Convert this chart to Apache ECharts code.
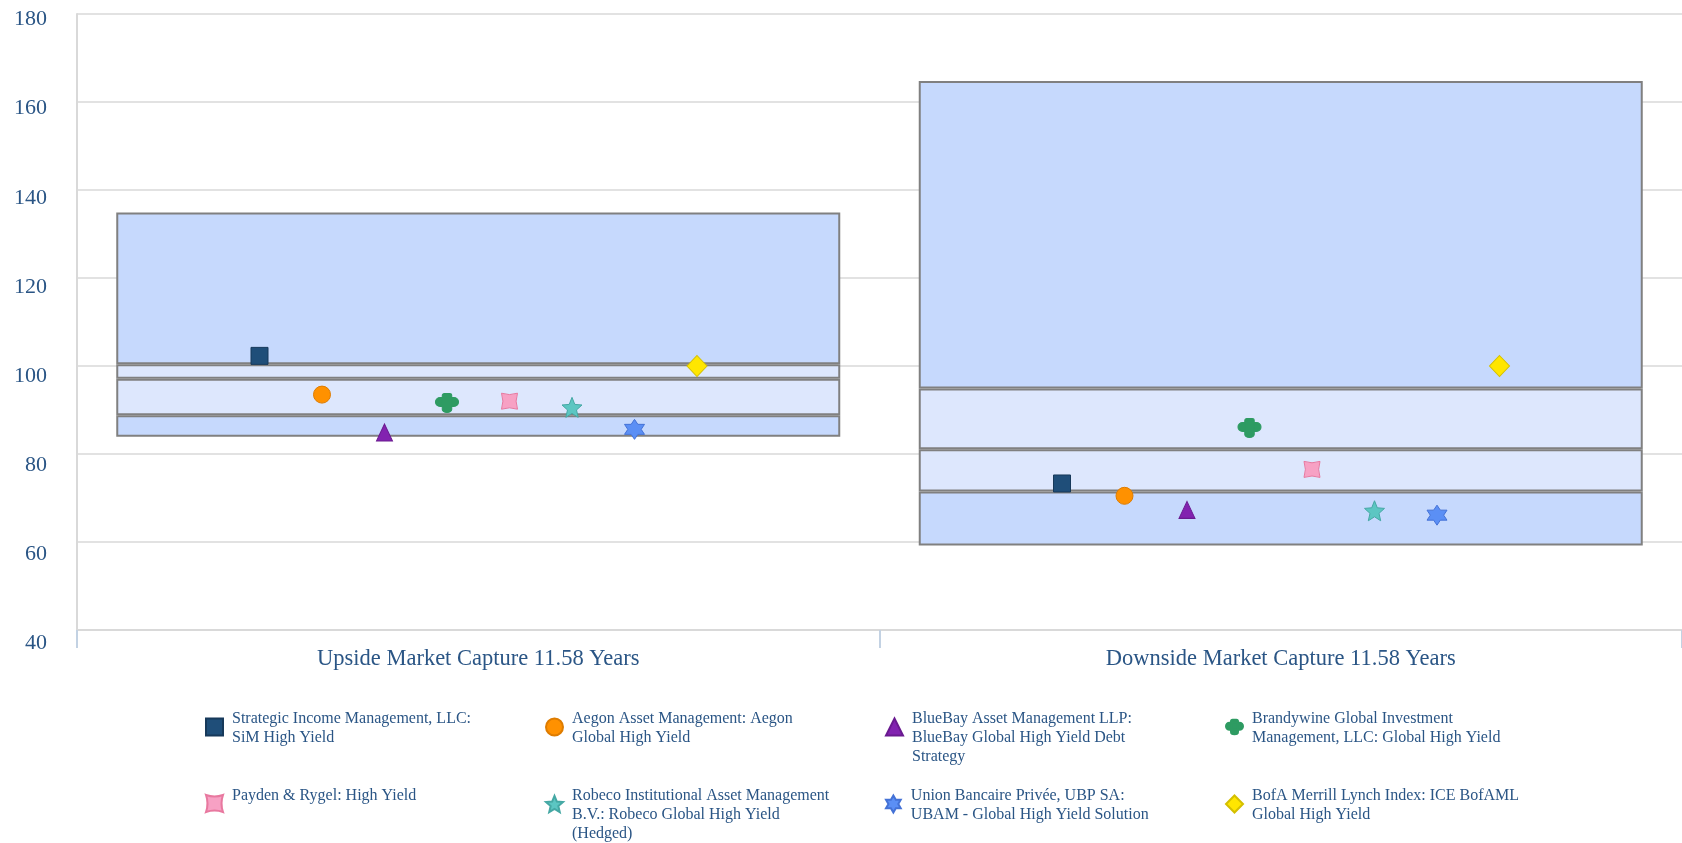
<!DOCTYPE html>
<html><head><meta charset="utf-8">
<script src="https://cdn.jsdelivr.net/npm/echarts@6/dist/echarts.min.js"></script>
<style>html,body{margin:0;padding:0;background:#fff}#c{width:1682px;height:843px}</style>
</head><body><div id="c"></div>
<script>
// ---- data ----
const categories = ['Upside Market Capture 11.58 Years', 'Downside Market Capture 11.58 Years'];
const rangeMin = [83.9, 59.2];
const rangeQ1 = [88.8, 71.5];
const rangeMedian = [97.1, 81.1];
const rangeQ3 = [100.4, 94.9];
const rangeMax = [134.9, 164.8];

const simHighYield = [102.3, 73.3];
const aegonGlobalHighYield = [93.5, 70.5];
const blueBayGlobalHighYield = [84.9, 67.3];
const brandywineGlobalHighYield = [91.6, 85.9];
const paydenHighYield = [92.0, 76.5];
const robecoGlobalHighYield = [90.6, 67.1];
const ubamGlobalHighYield = [85.6, 66.1];
const bofamlGlobalHighYield = [100.0, 100.0];

const yTickValues = [40, 60, 80, 100, 120, 140, 160, 180];

const seriesNames = [
  'Strategic Income Management, LLC: SiM High Yield',
  'Aegon Asset Management: Aegon Global High Yield',
  'BlueBay Asset Management LLP: BlueBay Global High Yield Debt Strategy',
  'Brandywine Global Investment Management, LLC: Global High Yield',
  'Payden & Rygel: High Yield',
  'Robeco Institutional Asset Management B.V.: Robeco Global High Yield (Hedged)',
  'Union Bancaire Privée, UBP SA: UBAM - Global High Yield Solution',
  'BofA Merrill Lynch Index: ICE BofAML Global High Yield'
];
const legendLines = [
  ['Strategic Income Management, LLC:', 'SiM High Yield'],
  ['Aegon Asset Management: Aegon', 'Global High Yield'],
  ['BlueBay Asset Management LLP:', 'BlueBay Global High Yield Debt', 'Strategy'],
  ['Brandywine Global Investment', 'Management, LLC: Global High Yield'],
  ['Payden & Rygel: High Yield'],
  ['Robeco Institutional Asset Management', 'B.V.: Robeco Global High Yield', '(Hedged)'],
  ['Union Bancaire Privée, UBP SA:', 'UBAM - Global High Yield Solution'],
  ['BofA Merrill Lynch Index: ICE BofAML', 'Global High Yield']
];
const seriesValues = [simHighYield, aegonGlobalHighYield, blueBayGlobalHighYield, brandywineGlobalHighYield,
  paydenHighYield, robecoGlobalHighYield, ubamGlobalHighYield, bofamlGlobalHighYield];

// ---- styles ----
const FONT = "'Liberation Serif', 'Times New Roman', serif";
const TEXT = '#2a5585';
const DARK = '#c6d9fd';
const LIGHT = '#dde7fd';
const EDGE = '#808080';
const sym = {
  cross: 'path://M4.5,4 H17.5 A4.5,4.5 0 0 1 17.5,13 H4.5 A4.5,4.5 0 0 1 4.5,4 Z M6.5,2 A2,2 0 0 1 8.5,0 H13.5 A2,2 0 0 1 15.5,2 V16 A4.5,3 0 0 1 6.5,16 Z',
  pinch: 'path://M0,0 Q10,3.5 20,0 Q16.5,10 20,20 Q10,16.5 0,20 Q3.5,10 0,0 Z',
  star5: 'path://M10,0 L12.65,6.36 L19.51,6.91 L14.28,11.39 L15.88,18.09 L10,14.5 L4.12,18.09 L5.72,11.39 L0.49,6.91 L7.35,6.36 Z',
  star6: 'path://M10,0 L12.9,4.98 L18.66,5 L15.8,10 L18.66,15 L12.9,15.02 L10,20 L7.1,15.02 L1.34,15 L4.2,10 L1.34,5 L7.1,4.98 Z'
};
const markerStyles = [
  {symbol: 'rect', size: 17, color: '#1f4e79', border: '#17395a'},
  {symbol: 'circle', size: 17, color: '#ff9100', border: '#de7c00'},
  {symbol: 'triangle', size: [16, 17], color: '#8222b0', border: '#6a1a90'},
  {symbol: sym.cross, size: [23, 19], color: '#2e9b62', border: '#2e9b62'},
  {symbol: sym.pinch, size: 16, color: '#f7a1c4', border: '#e8789f'},
  {symbol: sym.star5, size: 20, color: '#5cc6c2', border: '#45a8a4'},
  {symbol: sym.star6, size: 20, color: '#5b8ff5', border: '#4472d6'},
  {symbol: 'diamond', size: [20, 21], color: '#ffe600', border: '#d4bf00'}
];
const markerSpacing = 62.5;
const legendCols = [205, 545, 885, 1225];
const legendIconCenters = [728, 805];
const legendExtraShift = {1: 0, 2: 0, 3: 9.5};
const LH = 19;
// vertical nudge (px) of each y tick label below its gridline, as in the reference
const yLabelNudge = {40: 12.0, 60: 10.9, 80: 9.7, 100: 8.5, 120: 7.4, 140: 6.2, 160: 5.0, 180: 3.8};

// ---- build ----
const diff = (a, b) => a.map((v, i) => +(v - b[i]).toFixed(2));
const bandData = [rangeMin, diff(rangeQ1, rangeMin), diff(rangeMedian, rangeQ1), diff(rangeQ3, rangeMedian), diff(rangeMax, rangeQ3)];
const bandColors = ['transparent', DARK, LIGHT, LIGHT, DARK];

const series = [];
bandData.forEach((d, i) => {
  series.push({
    type: 'bar', stack: 'range', data: d, barWidth: 724, silent: true, z: 2,
    itemStyle: i === 0 ? {color: 'transparent', borderWidth: 0}
      : {color: bandColors[i], borderColor: EDGE, borderWidth: 2}
  });
});
seriesNames.forEach((name, k) => {
  const m = markerStyles[k];
  series.push({
    type: 'scatter', name, data: seriesValues[k], z: 5,
    symbol: m.symbol, symbolSize: m.size, symbolKeepAspect: false,
    symbolOffset: [(k - 3.5) * markerSpacing, 0],
    itemStyle: {color: m.color, borderColor: m.border, borderWidth: 1, opacity: 1}
  });
});

const legendRich = {
  t: {fontFamily: FONT, fontSize: 16, lineHeight: LH, color: TEXT},
  s1: {fontSize: 1, lineHeight: 16},
  s2: {fontSize: 1, lineHeight: 3},
  s3: {fontSize: 1, lineHeight: 22}
};
const spacerH = {s1: 16, s2: 3, s3: 22};
const legends = seriesNames.map((name, k) => {
  const n = legendLines[k].length;
  const body = legendLines[k].map(l => '{t|' + l + '}').join('\n');
  const spacer = 's' + n;
  const text = n === 1 ? body + '\n{' + spacer + '| }' : '{' + spacer + '| }\n' + body;
  const H = LH * n + spacerH[spacer];
  const c = legendIconCenters[Math.floor(k / 4)];
  return {
    data: [name], left: legendCols[k % 4], top: c - H / 2 + legendExtraShift[n],
    padding: 0, itemWidth: 17, itemHeight: 17, selectedMode: false,
    formatter: () => text,
    textStyle: {fontFamily: FONT, fontSize: 16, color: TEXT, rich: legendRich, padding: [0, 0, 0, 4]}
  };
});

const yRich = {};
yTickValues.forEach(v => {
  yRich['v' + v] = {fontFamily: FONT, fontSize: 22, color: TEXT, lineHeight: 2 * (yLabelNudge[v] + 1.6)};
});

const chart = echarts.init(document.getElementById('c'), null, {renderer: 'canvas'});
chart.setOption({
  animation: false,
  backgroundColor: '#fff',
  grid: {left: 77, right: -2, top: 14, bottom: 213, containLabel: false},
  xAxis: {
    type: 'category', data: categories, boundaryGap: true,
    axisLine: {show: true, lineStyle: {color: '#d9d9d9', width: 2}},
    axisTick: {show: true, length: 18, lineStyle: {color: '#c3d2e3', width: 2}},
    axisLabel: {fontFamily: FONT, fontSize: 22.5, color: TEXT, margin: 18},
    splitLine: {show: false}
  },
  yAxis: {
    type: 'value', min: 40, max: 180, interval: 20,
    axisLine: {show: true, lineStyle: {color: '#d9d9d9', width: 2}},
    axisTick: {show: false},
    axisLabel: {fontFamily: FONT, fontSize: 22, color: TEXT, margin: 30, verticalAlign: 'top',
      formatter: v => '{v' + v + '|' + v + '}', rich: yRich},
    splitLine: {show: true, lineStyle: {color: '#d9d9d9', width: 1.5}}
  },
  legend: legends,
  series
});
</script></body></html>
